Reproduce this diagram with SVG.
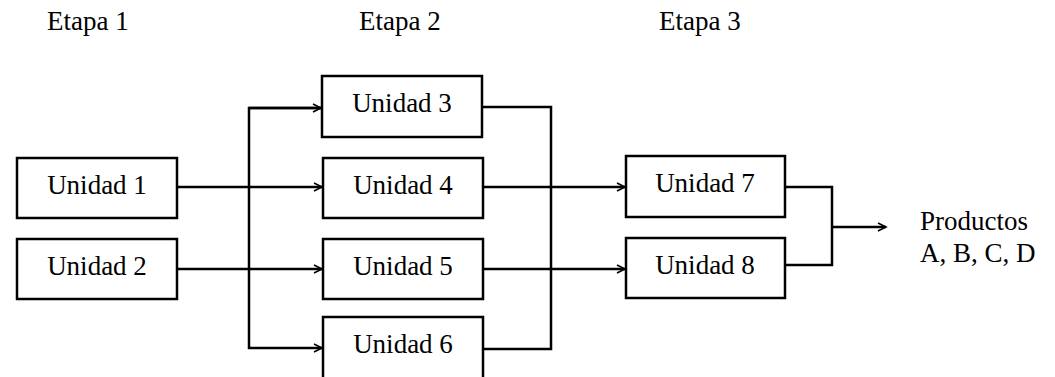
<svg xmlns="http://www.w3.org/2000/svg" width="1055" height="377" viewBox="0 0 1055 377">
<style>
.box{fill:#fff;stroke:#000;stroke-width:2.5}
.t{font-family:"Liberation Serif","Times New Roman",serif;font-size:27px;fill:#000}
.c{text-anchor:middle}
.ln{fill:none;stroke:#000;stroke-width:2.5}
</style>
<defs>
<marker id="ah" markerWidth="12" markerHeight="10" refX="10" refY="5" orient="auto" markerUnits="userSpaceOnUse">
<path d="M2,1 L10,5 L2,9" fill="none" stroke="#000" stroke-width="1.6"/>
</marker>
</defs>
<rect width="1055" height="377" fill="#fff"/>
<g id="labels">
<text class="t" x="47" y="30">Etapa 1</text>
<text class="t" x="359" y="30">Etapa 2</text>
<text class="t" x="659" y="30">Etapa 3</text>
<text class="t" x="920" y="230">Productos</text>
<text class="t" x="920" y="262">A, B, C, D</text>
</g>
<g id="connectors">
<path class="ln" d="M177,187 H322" marker-end="url(#ah)"/>
<path class="ln" d="M177,269 H322" marker-end="url(#ah)"/>
<path class="ln" d="M322,108 H249 V348 H322" marker-end="url(#ah)"/>
<path class="ln" d="M249,108 H321" marker-end="url(#ah)"/>
<path class="ln" d="M482,107 H551 V349 H483"/>
<path class="ln" d="M483,187 H625" marker-end="url(#ah)"/>
<path class="ln" d="M483,269 H625" marker-end="url(#ah)"/>
<path class="ln" d="M785,187 H832 V265 H785"/>
<path class="ln" d="M832,227 H886" marker-end="url(#ah)"/>
</g>
<g id="u1"><rect class="box" x="17" y="158" width="160" height="60"/><text class="t c" x="97" y="194">Unidad 1</text></g>
<g id="u2"><rect class="box" x="17" y="239" width="160" height="60"/><text class="t c" x="97" y="275">Unidad 2</text></g>
<g id="u3"><rect class="box" x="322" y="76" width="160" height="61"/><text class="t c" x="402" y="112">Unidad 3</text></g>
<g id="u4"><rect class="box" x="323" y="158" width="160" height="60"/><text class="t c" x="403" y="194">Unidad 4</text></g>
<g id="u5"><rect class="box" x="323" y="239" width="160" height="60"/><text class="t c" x="403" y="275">Unidad 5</text></g>
<g id="u6"><rect class="box" x="323" y="317" width="160" height="62"/><text class="t c" x="403" y="353">Unidad 6</text></g>
<g id="u7"><rect class="box" x="626" y="156" width="159" height="61"/><text class="t c" x="705" y="192">Unidad 7</text></g>
<g id="u8"><rect class="box" x="626" y="238" width="159" height="60"/><text class="t c" x="705" y="274">Unidad 8</text></g>
</svg>
